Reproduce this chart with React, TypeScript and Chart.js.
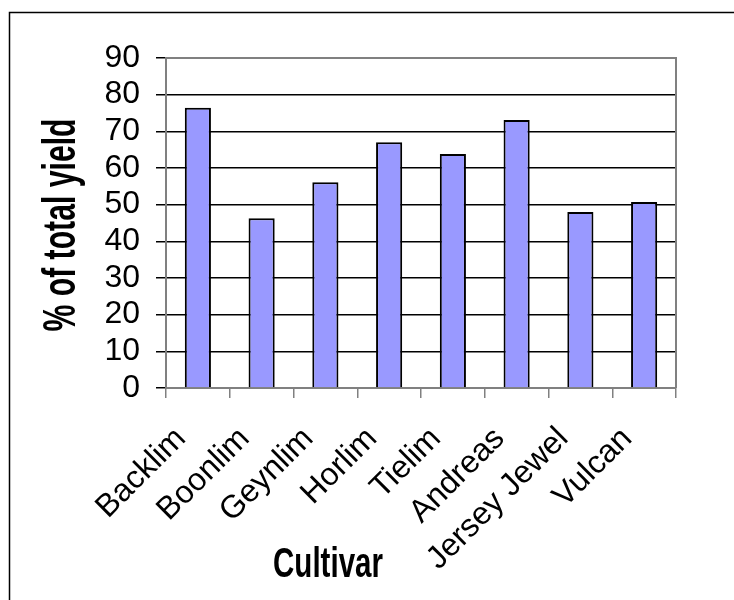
import React, { useEffect, useRef } from "react";
import { Chart, registerables } from "chart.js";

Chart.register(...registerables);

const categories = [
  "Backlim",
  "Boonlim",
  "Geynlim",
  "Horlim",
  "Tielim",
  "Andreas",
  "Jersey Jewel",
  "Vulcan",
];
const yieldPct = [76.4, 46.3, 56.1, 67.0, 63.8, 73.1, 48.0, 50.7];
const yMin = 0;
const yMax = 90;
const yStep = 10;
const xTitle = "Cultivar";
const yTitle = "% of total yield";

const FONT = "'Liberation Sans', Arial, Helvetica, sans-serif";

function drawCondensed(
  ctx: CanvasRenderingContext2D,
  text: string,
  x: number,
  y: number,
  rotation: number,
  font: string,
  targetWidth: number
) {
  ctx.save();
  ctx.font = font;
  const w = ctx.measureText(text).width;
  const sx = targetWidth / w;
  ctx.translate(x, y);
  ctx.rotate(rotation);
  ctx.scale(sx, 1);
  ctx.fillStyle = "#000";
  ctx.textAlign = "center";
  ctx.textBaseline = "alphabetic";
  ctx.fillText(text, 0, 0);
  ctx.restore();
}

const framePlugin = {
  id: "frame",
  beforeDraw(chart: any) {
    const ctx = chart.ctx as CanvasRenderingContext2D;
    ctx.save();
    ctx.fillStyle = "#fff";
    ctx.fillRect(0, 0, chart.width, chart.height);
    ctx.strokeStyle = "#000";
    ctx.lineWidth = 1.5;
    ctx.beginPath();
    ctx.moveTo(9.5, chart.height);
    ctx.lineTo(9.5, 12.5);
    ctx.lineTo(chart.width, 12.5);
    ctx.stroke();
    ctx.restore();
  },
  afterDraw(chart: any) {
    const ctx = chart.ctx as CanvasRenderingContext2D;
    const a = chart.chartArea;
    ctx.save();
    ctx.strokeStyle = "#808080";
    ctx.lineWidth = 2;
    ctx.beginPath();
    ctx.moveTo(a.left, a.top);
    ctx.lineTo(a.right, a.top);
    ctx.lineTo(a.right, a.bottom);
    ctx.stroke();
    ctx.restore();
    const yc = (a.top + a.bottom) / 2;
    drawCondensed(ctx, yTitle, 75, yc + 2, -Math.PI / 2, `bold 46px ${FONT}`, 213);
    drawCondensed(ctx, xTitle, 328, 577, 0, `bold 42px ${FONT}`, 110);
  },
};

export default function App() {
  const ref = useRef<HTMLCanvasElement | null>(null);

  useEffect(() => {
    if (!ref.current) return;
    const chart = new Chart(ref.current, {
      type: "bar",
      data: {
        labels: categories,
        datasets: [
          {
            data: yieldPct,
            backgroundColor: "#9999FF",
            borderColor: "#000000",
            borderWidth: 2,
            categoryPercentage: 1,
            barPercentage: 0.41,
          },
        ],
      },
      options: {
        responsive: false,
        animation: false,
        layout: { padding: { top: 58, right: 58, left: 0, bottom: 0 } },
        plugins: {
          legend: { display: false },
          tooltip: { enabled: false },
          title: { display: false },
        },
        scales: {
          x: {
            offset: true,
            grid: {
              offset: true,
              drawOnChartArea: false,
              drawTicks: true,
              tickLength: 10,
              tickColor: "#808080",
              lineWidth: 1.5,
            },
            border: { color: "#808080", width: 2 },
            ticks: {
              autoSkip: false,
              maxRotation: 45,
              minRotation: 45,
              padding: 22,
              labelOffset: -17,
              color: "#000",
              font: { family: FONT, size: 32 },
            },
            afterFit: (scale: any) => {
              scale.height = 600 - 388;
            },
          },
          y: {
            min: yMin,
            max: yMax,
            grid: {
              color: (c: any) =>
                c.tick && c.tick.value === yMax ? "#808080" : "#000000",
              tickColor: "#000000",
              tickLength: 10,
              lineWidth: 1.5,
            },
            border: { color: "#808080", width: 2 },
            ticks: {
              stepSize: yStep,
              autoSkip: false,
              padding: 16,
              color: "#000",
              font: { family: FONT, size: 32 },
            },
            afterFit: (scale: any) => {
              scale.width = 166;
            },
          },
        },
      },
      plugins: [framePlugin],
    });
    return () => chart.destroy();
  }, []);

  return (
    <div style={{ position: "absolute", left: 0, top: 0, width: 734, height: 600, background: "#fff" }}>
      <canvas ref={ref} width={734} height={600} style={{ display: "block" }} />
    </div>
  );
}
